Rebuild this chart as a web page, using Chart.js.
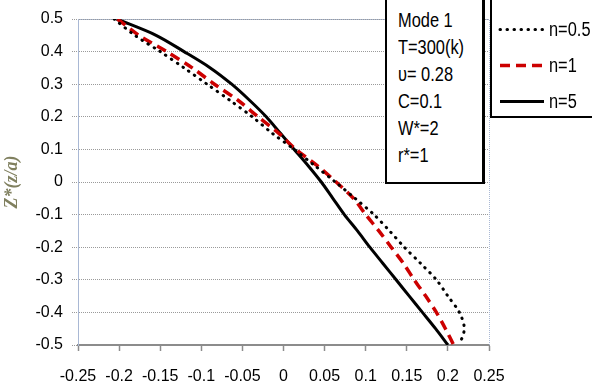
<!DOCTYPE html>
<html>
<head>
<meta charset="utf-8">
<script src="https://cdn.jsdelivr.net/npm/chart.js@4.4.0/dist/chart.umd.min.js"></script>
<style>
  html, body { margin: 0; padding: 0; background: #fff; }
  #wrap { position: relative; width: 592px; height: 387px; overflow: hidden; }
  #myChart { position: absolute; left: 0; top: 0; }
  .box { position: absolute; background: #fff; border: 2px solid #000;
         font-family: 'Liberation Sans', Arial, sans-serif; color: #000; }
  .narrow { display: inline-block; transform: scaleX(0.82); transform-origin: 0 50%; }
  #info { left: 385px; top: -4px; width: 95px; height: 184px; border-right-width: 3px; }
  #info div { position: absolute; left: 11px; font-size: 20px; line-height: 20px; white-space: nowrap; }
  #legend { left: 490px; top: -4px; width: 110px; height: 118px; }
  #legend .row { position: absolute; left: 6px; height: 20px; white-space: nowrap; font-size: 20px; line-height: 20px; }
  #legend svg { position: absolute; left: 0; top: 0; }
  #legend span.narrow { position: absolute; left: 51px; top: 0; }
</style>
</head>
<body>
<div id="wrap">
  <canvas id="myChart" width="592" height="387"></canvas>
  <div id="info" class="box"></div>
  <div id="legend" class="box"></div>
</div>
<script>
// Z* values (vertical axis), shared by all curves
var zStar = [0.5, 0.45, 0.4, 0.35, 0.3, 0.25, 0.2, 0.15, 0.1, 0.05, 0,
             -0.05, -0.1, -0.15, -0.2, -0.25, -0.3, -0.35, -0.4, -0.45, -0.5];

// horizontal values, one per Z* value
var n05 = [-0.206, -0.181, -0.150, -0.121, -0.093, -0.065, -0.038, -0.014, 0.013, 0.038, 0.063,
           0.087, 0.110, 0.129, 0.147, 0.167, 0.186, 0.200, 0.214, 0.220, 0.214];
var n1  = [-0.202, -0.176, -0.142, -0.111, -0.084, -0.055, -0.031, -0.006, 0.015, 0.041, 0.064,
           0.085, 0.100, 0.116, 0.131, 0.146, 0.159, 0.173, 0.186, 0.197, 0.207];
var n5  = [-0.203, -0.155, -0.121, -0.089, -0.063, -0.041, -0.021, -0.004, 0.013, 0.030, 0.046,
           0.060, 0.074, 0.090, 0.105, 0.121, 0.137, 0.153, 0.169, 0.185, 0.200];

var seriesLabels = ['n=0.5', 'n=1', 'n=5'];
var infoLines = ['Mode 1', 'T=300(k)', 'υ= 0.28', 'C=0.1', 'W*=2', 'r*=1'];
var yAxisTitle = 'Z*(z/a)';

// x/y pairs for a scatter line
function toPoints(xs){
  return xs.map(function(x, i){ return {x: x, y: zStar[i]}; });
}

Chart.defaults.font.family = "'Liberation Sans', Arial, sans-serif";
Chart.defaults.color = '#000';

var styles = [
  {borderColor: '#000', borderWidth: 3, borderDash: [0.5, 6.5], borderCapStyle: 'round'},
  {borderColor: '#cc0000', borderWidth: 3.5, borderDash: [10, 6], borderCapStyle: 'butt'},
  {borderColor: '#000', borderWidth: 3, borderDash: [], borderCapStyle: 'butt'}
];

// dotted light blue frame round the plot area
var frame = {
  id: 'frame',
  beforeDatasetsDraw: function(chart){
    var a = chart.chartArea, c = chart.ctx;
    c.save();
    c.strokeStyle = '#a9b8d4';
    c.lineWidth = 1;
    c.setLineDash([1, 1]);
    c.beginPath();
    c.moveTo(a.left, a.top + 0.5);
    c.lineTo(a.right + 0.5, a.top + 0.5);
    c.lineTo(a.right + 0.5, a.bottom);
    c.stroke();
    c.restore();
  }
};

var fmt = function(v){ return String(parseFloat(v.toFixed(2))); };

var ctx = document.getElementById('myChart');
var chart = new Chart(ctx, {
  type: 'scatter',
  data: {
    datasets: [n05, n1, n5].map(function(xs, i){
      return Object.assign({
        label: seriesLabels[i],
        data: toPoints(xs),
        showLine: true,
        pointRadius: 0,
        tension: 0.3,
        fill: false
      }, styles[i]);
    })
  },
  options: {
    responsive: false,
    animation: false,
    layout: {padding: {left: 0, right: 103, top: 19, bottom: 0}},
    plugins: {legend: {display: false}, tooltip: {enabled: false}},
    scales: {
      x: {
        type: 'linear',
        min: -0.25, max: 0.25,
        afterFit: function(s){ s.height = 42; },
        ticks: {
          stepSize: 0.05,
          padding: 16,
          autoSkip: false,
          font: {size: 16},
          maxRotation: 0,
          callback: fmt
        },
        grid: {drawOnChartArea: false, drawTicks: true, tickLength: 6, tickColor: '#8c8c8c', tickWidth: 1.5},
        border: {display: true, color: '#8c8c8c', width: 2}
      },
      y: {
        type: 'linear',
        min: -0.5, max: 0.5,
        afterFit: function(s){ s.width = 78; },
        ticks: {
          stepSize: 0.1,
          padding: 9,
          autoSkip: false,
          font: {size: 16},
          callback: fmt
        },
        grid: {
          color: '#9a9a9a', lineWidth: 1,
          tickLength: 6, tickColor: '#9a9a9a',
          tickBorderDash: [1, 1],
          drawTicks: true
        },
        border: {display: true, color: '#a9b8d4', width: 1, dash: [1, 1]},
        title: {
          display: true,
          text: yAxisTitle,
          color: '#80805f',
          font: {family: "'Liberation Serif', 'Times New Roman', serif", size: 18, style: 'italic', weight: 'bold'},
          padding: {top: 2, bottom: 0}
        }
      }
    }
  },
  plugins: [frame]
});

// grid lines dotted
chart.options.scales.y.grid.borderDash = [1, 1];
chart.update('none');

// text box
var info = document.getElementById('info');
infoLines.forEach(function(t, i){
  var d = document.createElement('div');
  var s = document.createElement('span');
  s.className = 'narrow';
  s.textContent = t;
  d.appendChild(s);
  d.style.top = (22 + i * 27 - 10) + 'px';
  info.appendChild(d);
});

// legend built from the datasets
var legend = document.getElementById('legend');
chart.data.datasets.forEach(function(ds, i){
  var row = document.createElement('div');
  row.className = 'row';
  row.style.top = (31 + i * 36 - 10) + 'px';
  var dash = ds.borderDash.length ? ds.borderDash.join(' ') : 'none';
  row.innerHTML = '<svg width="48" height="20"><line x1="2" y1="10.5" x2="46" y2="10.5" stroke="' +
    ds.borderColor + '" stroke-width="' + ds.borderWidth + '" stroke-dasharray="' + dash +
    '" stroke-linecap="' + ds.borderCapStyle + '"/></svg><span class="narrow"></span>';
  row.querySelector('span').textContent = ds.label;
  legend.appendChild(row);
});
</script>
</body>
</html>
